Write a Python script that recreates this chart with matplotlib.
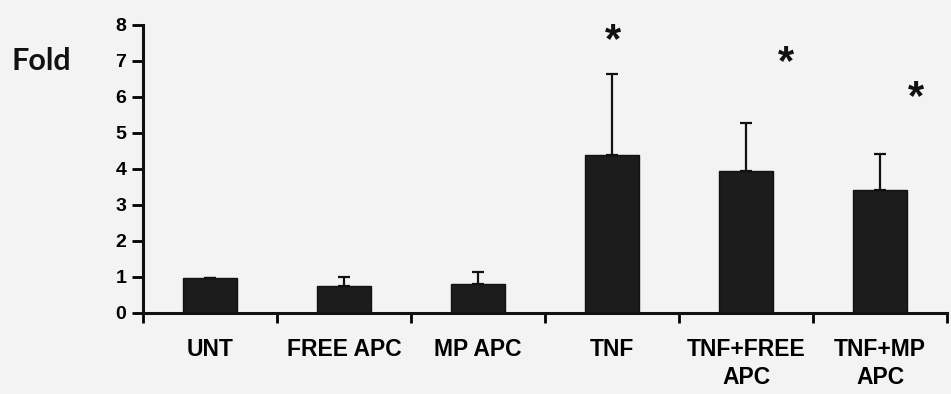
import numpy as np
import matplotlib
matplotlib.use('Agg')
from matplotlib import pyplot as plt

categories = ['UNT', 'FREE APC', 'MP APC', 'TNF', 'TNF+FREE\nAPC', 'TNF+MP\nAPC']
fold = [0.97, 0.75, 0.80, 4.38, 3.95, 3.42]
err_up = [0.0, 0.25, 0.34, 2.26, 1.33, 0.99]

# significance stars: (category index, x shift, height)
star_idx = [3, 4, 5]
star_shift = [0.01, 0.30, 0.27]
star_y = [7.56, 6.95, 5.98]

BG = '#f3f3f3'
plt.rcParams['font.family'] = ['Liberation Sans', 'DejaVu Sans']

fig = plt.figure(figsize=(9.51, 3.94), dpi=100, facecolor=BG)
ax = fig.add_axes([0.1504, 0.2056, 0.8454, 0.731], facecolor=BG)

x = np.arange(len(categories))
ax.bar(x, fold, width=0.41, color='#1c1c1c', edgecolor='#111111', linewidth=1,
       yerr=[np.zeros(len(err_up)), err_up], capsize=4.3,
       error_kw=dict(ecolor='#111111', elinewidth=1.6, capthick=1.6), zorder=2)

for i, dx, yy in zip(star_idx, star_shift, star_y):
    ax.text(i + dx, yy, '*', ha='center', va='center', fontsize=30,
            fontweight='bold', color='#111111')

ax.set_xlim(-0.5, 5.5)
ax.set_ylim(0, 8)
ax.set_yticks(range(0, 9))
ax.tick_params(axis='y', length=8, width=2, labelsize=14, pad=4)
for lab in ax.get_yticklabels():
    lab.set_fontweight('bold')

# boundary ticks on x axis, labels at the bar centres
ax.set_xticks(np.arange(-0.5, 6, 1.0))
ax.set_xticklabels([])
ax.tick_params(axis='x', which='major', length=7, width=2, direction='out')
ax.set_xticks(x, minor=True)
ax.set_xticklabels(categories, minor=True, fontsize=16.5, fontweight='bold',
                   linespacing=1.3, va='top')
ax.tick_params(axis='x', which='minor', length=0, pad=18)

for side in ['top', 'right']:
    ax.spines[side].set_visible(False)
for side in ['left', 'bottom']:
    ax.spines[side].set_linewidth(2.2)
    ax.spines[side].set_color('#111111')
ax.spines['left'].set_bounds(0, 8)

fig.text(0.012, 0.845, 'Fold', fontsize=22, fontweight='bold',
         family=['Lato', 'DejaVu Sans'], color='#111111', va='center')

fig.savefig('out.png', dpi=100, facecolor=BG)
